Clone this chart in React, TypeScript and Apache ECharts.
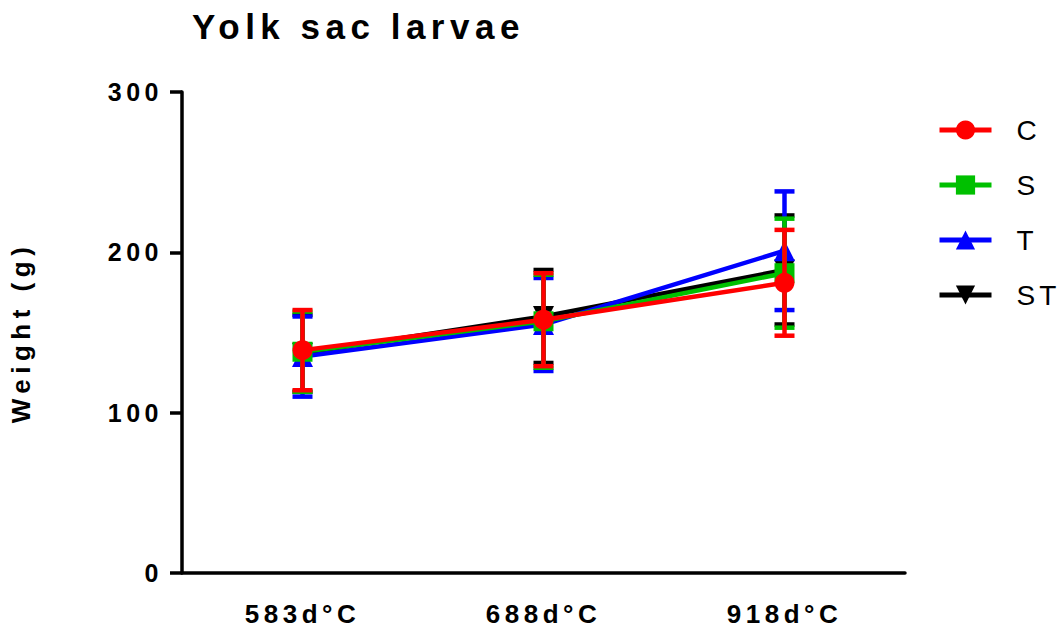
import React, { useEffect, useRef } from "react";
import * as echarts from "echarts";

const categories = ["583d°C", "688d°C", "918d°C"];
const seriesNames = ["C", "S", "T", "ST"];
const colors = ["#FF0000", "#00C000", "#0000FF", "#000000"];
const symbols = ["circle", "rect", "triangle", "triangle"];
const symbolRotations = [0, 0, 0, 180];

const meanC = [139, 158, 181];
const sdC = [25, 29, 33];
const meanS = [138, 157, 187];
const sdS = [25, 29, 34];
const meanT = [135, 155, 201];
const sdT = [25, 29, 37];
const meanST = [137, 160, 189];
const sdST = [24, 29, 34];

const yTicks = [0, 100, 200, 300];

const means = [meanC, meanS, meanT, meanST];
const sds = [sdC, sdS, sdT, sdST];

const FONT = "'Liberation Sans', Arial, sans-serif";

export default function App() {
  const ref = useRef<HTMLDivElement>(null);

  useEffect(() => {
    if (!ref.current) return;
    const chart = echarts.init(ref.current, undefined, { renderer: "svg" });

    // Draw order: ST at the bottom, C on top
    const drawOrder = [3, 2, 1, 0];
    const lineSeries: any[] = [];
    const errorSeries: any[] = [];
    drawOrder.forEach((i, rank) => {
      const color = colors[i];
      errorSeries.push({
        name: seriesNames[i],
        type: "custom",
        z: 2 + rank * 2,
        silent: true,
        itemStyle: { color },
        data: means[i].map((m, k) => [k, m, sds[i][k]]),
        renderItem: (params: any, api: any) => {
          const x = api.value(0);
          const m = api.value(1);
          const s = api.value(2);
          const top = api.coord([x, m + s]);
          const bot = api.coord([x, m - s]);
          const half = 10;
          const style = { stroke: color, lineWidth: 4.5, fill: null };
          return {
            type: "group",
            children: [
              { type: "line", shape: { x1: top[0], y1: top[1], x2: bot[0], y2: bot[1] }, style },
              { type: "line", shape: { x1: top[0] - half, y1: top[1], x2: top[0] + half, y2: top[1] }, style },
              { type: "line", shape: { x1: bot[0] - half, y1: bot[1], x2: bot[0] + half, y2: bot[1] }, style },
            ],
          };
        },
      });
      lineSeries.push({
        name: seriesNames[i],
        type: "line",
        z: 3 + rank * 2,
        data: means[i],
        symbol: symbols[i],
        symbolSize: i === 0 ? 20 : i === 1 ? 20 : 21,
        symbolRotate: symbolRotations[i],
        showAllSymbol: true,
        lineStyle: { color, width: 4.5 },
        itemStyle: { color, borderWidth: 0 },
        emphasis: { disabled: true },
      });
    });

    chart.setOption({
      animation: false,
      backgroundColor: "#ffffff",
      title: {
        text: "Yolk sac larvae",
        left: 187,
        top: 4,
        textStyle: { fontFamily: FONT, fontWeight: "bold", fontSize: 35, color: "#000" },
      },
      legend: {
        orient: "vertical",
        left: 937,
        top: 116,
        padding: 0,
        itemWidth: 52,
        itemHeight: 24,
        itemGap: 27,
        data: seriesNames,
        lineStyle: { width: 5 },
        textStyle: { fontFamily: FONT, fontSize: 28, color: "#000", padding: [0, 0, 0, 20] },
      },
      grid: { left: 181, right: 157, top: 92, bottom: 57, containLabel: false },
      xAxis: {
        type: "category",
        data: categories,
        boundaryGap: true,
        axisLine: { lineStyle: { color: "#000", width: 3.5 } },
        axisTick: { alignWithLabel: true, length: 13, lineStyle: { color: "#000", width: 3.5 } },
        axisLabel: {
          margin: 28,
          fontFamily: FONT,
          fontWeight: "bold",
          fontSize: 26,
          color: "#000",
        },
      },
      yAxis: {
        type: "value",
        min: 0,
        max: 300,
        interval: 100,
        name: "Weight (g)",
        nameLocation: "middle",
        nameRotate: 90,
        nameGap: 148,
        nameTextStyle: { fontFamily: FONT, fontWeight: "bold", fontSize: 26, color: "#000" },
        splitLine: { show: false },
        axisLine: { show: true, lineStyle: { color: "#000", width: 3.5 } },
        axisTick: { show: true, length: 12, lineStyle: { color: "#000", width: 3.5 } },
        axisLabel: {
          margin: 19,
          fontFamily: FONT,
          fontWeight: "bold",
          fontSize: 25,
          color: "#000",
          formatter: (v: number) => (yTicks.includes(v) ? String(v) : ""),
        },
      },
      series: [...lineSeries, ...errorSeries],
    });

    // widen the tracking of the chart's texts
    const spacing = () => {
      const texts = ref.current?.querySelectorAll("text") ?? [];
      texts.forEach((t) => {
        const s = t.textContent || "";
        let ls = "4.5px";
        if (s === "Yolk sac larvae") ls = "5.5px";
        else if (s === "Weight (g)") ls = "5.5px";
        else if (seriesNames.includes(s)) ls = "4px";
        (t as SVGTextElement).style.letterSpacing = ls;
      });
    };
    spacing();
    chart.on("finished", spacing);

    return () => {
      chart.dispose();
    };
  }, []);

  return (
    <div
      ref={ref}
      style={{ position: "absolute", left: 0, top: 0, width: 1062, height: 630 }}
    />
  );
}
